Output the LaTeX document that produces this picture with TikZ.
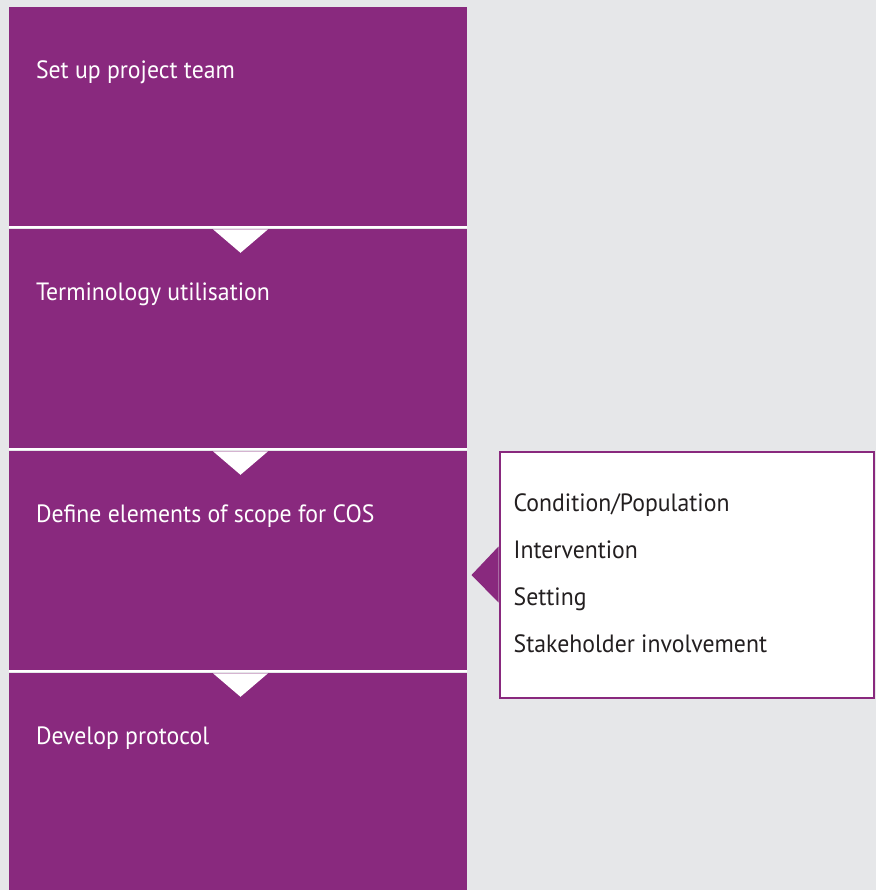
\documentclass[tikz,border=0pt]{standalone}
\usepackage{fontspec}
\setmainfont{PT Sans}[FakeStretch=0.95]
\usepackage{tikz}
\usetikzlibrary{calc}
\definecolor{cospurple}{RGB}{137,41,126}
\definecolor{cosgray}{RGB}{230,231,233}
\definecolor{costext}{RGB}{35,31,32}
\tikzset{ stepbox/.style = {rectangle, fill=cospurple, minimum width=458pt, minimum height=220pt, inner sep=0pt} }
\tikzset{ steplabel/.style = {anchor=base west, inner sep=0pt, text=white, font=\fontsize{25}{29}\selectfont} }
\tikzset{ itemlabel/.style = {anchor=base west, inner sep=0pt, text=costext, font=\fontsize{25}{29}\selectfont} }
\tikzset{ notch/.style = {fill=white} }

\begin{document}
\begin{tikzpicture}[x=1pt,y=-1pt]
            \fill[cosgray] (0,0) rectangle (876,890);
            \useasboundingbox (0,0) rectangle (876,890);
                \node [style=stepbox] (team) at (238,117) {};
                \node [style=stepbox] (terms) at (238,339) {};
                \node [style=stepbox] (scope) at (238,561) {};
                \node [style=stepbox, minimum height=219pt] (protocol) at (238,782.5) {};
                \draw[white, line width=1.6pt] (team.south west) -- (team.south east);
                \draw[white, line width=1.6pt] (terms.south west) -- (terms.south east);
                \draw[white, line width=1.6pt] (scope.south west) -- (scope.south east);
                \node [style=steplabel] (l1) at ($(team.north west)+(27,72)$) {Set up project team};
                \node [style=steplabel] (l2) at ($(terms.north west)+(27,72)$) {Terminology utilisation};
                \node [style=steplabel] (l3) at ($(scope.north west)+(27,72)$) {Define elements of scope for COS};
                \node [style=steplabel] (l4) at ($(protocol.north west)+(27,72)$) {Develop protocol};
                \fill[style=notch] ($(terms.north)+(-25,0.5)$) -- ($(terms.north)+(30,0.5)$) -- ($(terms.north)+(2.5,24)$) -- cycle;
                \fill[style=notch] ($(scope.north)+(-25,0.5)$) -- ($(scope.north)+(30,0.5)$) -- ($(scope.north)+(2.5,24)$) -- cycle;
                \fill[style=notch] ($(protocol.north)+(-25,0.5)$) -- ($(protocol.north)+(30,0.5)$) -- ($(protocol.north)+(2.5,24)$) -- cycle;
                \node [rectangle, draw=cospurple, line width=2pt, fill=white, minimum width=374pt, minimum height=246pt, inner sep=0pt] (elements) at (686.5,574.5) {};
                \fill[cospurple] ($(elements.west)+(0,-28)$) -- ($(elements.west)+(-27,0.5)$) -- ($(elements.west)+(0,28)$) -- cycle;
                \node [style=itemlabel] (i1) at ($(elements.north west)+(15,61)$) {Condition/Population};
                \node [style=itemlabel] (i2) at ($(elements.north west)+(15,108)$) {Intervention};
                \node [style=itemlabel] (i3) at ($(elements.north west)+(15,155)$) {Setting};
                \node [style=itemlabel] (i4) at ($(elements.north west)+(15,202)$) {Stakeholder involvement};
        \end{tikzpicture}
\end{document}
